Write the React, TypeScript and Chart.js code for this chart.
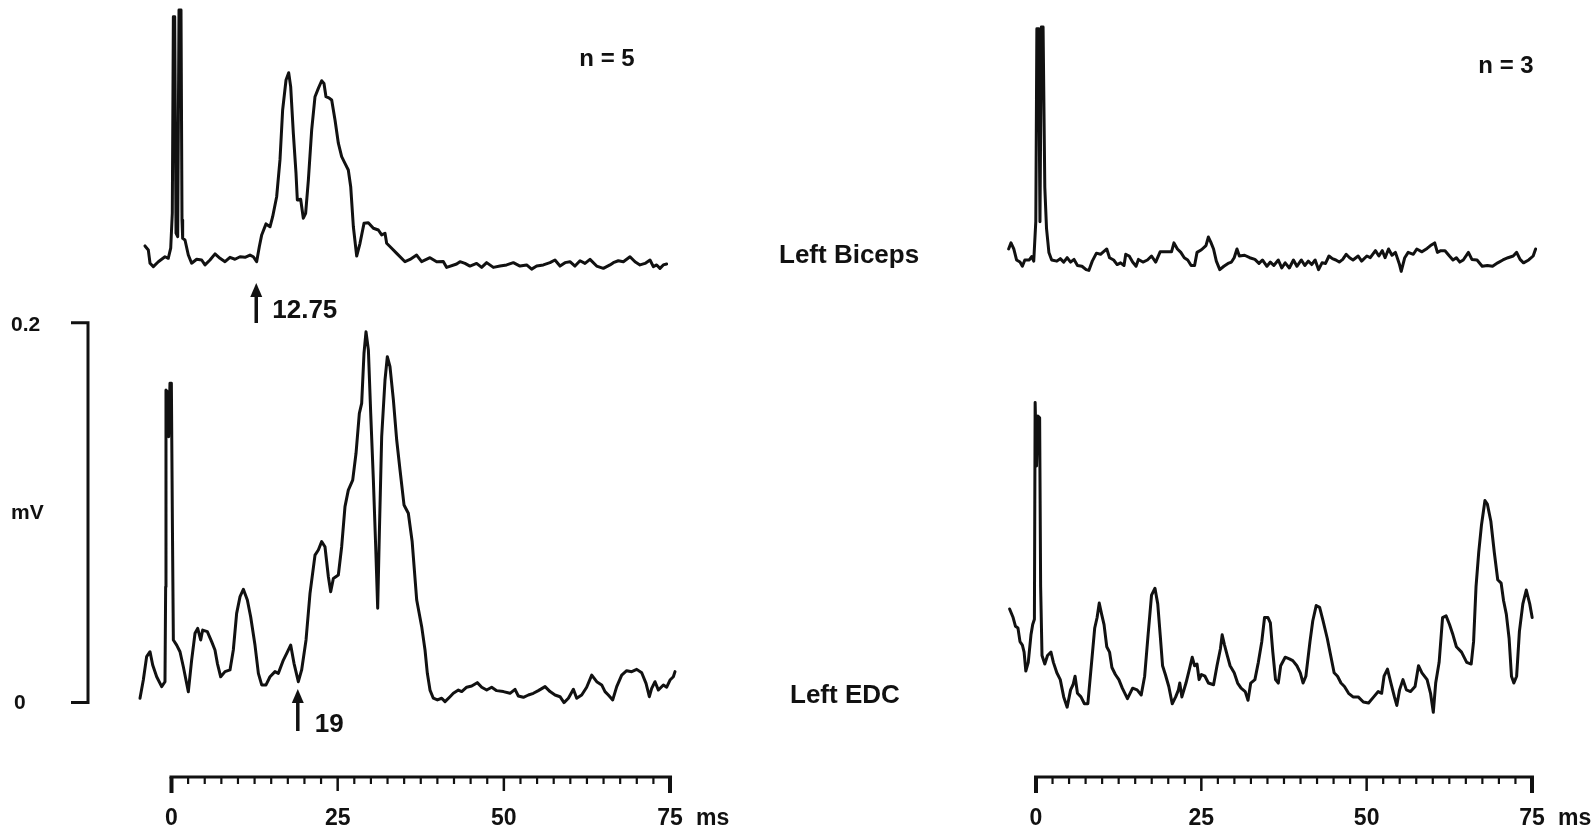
import React, { useEffect, useRef } from "react";
import { Chart, registerables } from "chart.js";

Chart.register(...registerables);

// ---------- data (time in ms, amplitude in mV) ----------
const leftBicepsMs = [
  -3.99, -3.49, -3.23, -2.73, -1.98, -0.98, -0.48, -0.12, 0.12, 0.28, 0.48, 0.68, 0.93, 1.13, 1.43, 1.58, 1.68, 2.03,
  2.53, 3.03, 3.79, 4.54, 5.04, 5.79, 6.55, 7.3, 8.05, 8.8, 9.55, 10.31, 11.06, 11.81, 12.31, 12.81, 13.21, 13.57,
  14.22, 14.82, 15.22, 15.82, 16.32, 16.72, 17.23, 17.63, 17.93, 18.33, 18.73, 18.93, 19.43, 19.83, 20.18, 20.59,
  21.09, 21.59, 22.09, 22.59, 22.94, 23.24, 23.75, 24.1, 24.6, 25.1, 25.6, 26.1, 26.6, 26.96, 27.36, 27.86, 28.36,
  28.96, 29.61, 30.37, 31.12, 31.62, 32.12, 32.37, 33.12, 33.88, 35.13, 35.88, 36.88, 37.63, 38.89, 39.89, 40.89,
  41.4, 42.9, 43.4, 44.15, 44.9, 45.9, 46.66, 47.41, 48.42, 49.42, 50.42, 51.43, 52.43, 53.43, 54.18, 54.94, 55.94,
  56.94, 57.69, 58.45, 59.2, 59.95, 60.7, 61.46, 62.21, 62.96, 63.96, 64.97, 65.97, 66.47, 67.22, 67.98, 68.98,
  69.73, 70.48, 71.24, 71.99, 72.49, 72.99, 73.49, 73.99, 74.49,
];
const leftBicepsMv = [
  0.0122, 0.0101, 0.0031, 0.0013, 0.0039, 0.0065, 0.0057, 0.011, 0.0294, 0.1329, 0.1329, 0.0189, 0.0171, 0.1365,
  0.1365, 0.0259, 0.0162, 0.0153, 0.0074, 0.0031, 0.0052, 0.0048, 0.0022, 0.0048, 0.008, 0.0057, 0.0039, 0.0062,
  0.0052, 0.0065, 0.0062, 0.0074, 0.0065, 0.0039, 0.0118, 0.018, 0.0238, 0.0223, 0.0276, 0.0381, 0.0575, 0.0838,
  0.0996, 0.1034, 0.0961, 0.0715, 0.0505, 0.0364, 0.0368, 0.0268, 0.0294, 0.0469, 0.0733, 0.0908, 0.0952, 0.0992,
  0.0978, 0.0908, 0.09, 0.0891, 0.0785, 0.0663, 0.0592, 0.0557, 0.0522, 0.0434, 0.0223, 0.0069, 0.0136, 0.0241,
  0.0244, 0.0215, 0.0206, 0.018, 0.0189, 0.0136, 0.011, 0.0083, 0.0039, 0.0051, 0.0074, 0.0039, 0.006, 0.0039,
  0.004, 0.0009, 0.0027, 0.0039, 0.003, 0.0016, 0.003, 0.0009, 0.0034, 0.0009, 0.0016, 0.0022, 0.0034, 0.0016,
  0.0022, 0.0, 0.0016, 0.0022, 0.0034, 0.0048, 0.0016, 0.0034, 0.0039, 0.0016, 0.0044, 0.003, 0.0051, 0.0016,
  0.0004, 0.0022, 0.0034, 0.0044, 0.0039, 0.0065, 0.0039, 0.0022, 0.003, 0.0048, 0.0013, 0.0022, 0.0004, 0.0022,
  0.0027,
];

const leftEdcMs = [
  -4.74, -4.24, -3.74, -3.23, -2.83, -2.23, -1.48, -0.98, -0.88, -0.83, -0.63, -0.43, -0.23, -0.02, 0.13, 0.28, 0.78,
  1.28, 1.78, 2.53, 3.03, 3.54, 3.94, 4.39, 4.69, 5.39, 6.04, 6.54, 6.9, 7.4, 8.05, 8.8, 9.3, 9.8, 10.31, 10.81,
  11.41, 11.91, 12.56, 13.07, 13.57, 14.22, 14.82, 15.57, 16.07, 16.83, 17.33, 17.93, 18.43, 19.08, 19.58, 20.24,
  20.84, 21.59, 22.09, 22.59, 23.09, 23.6, 23.95, 24.35, 25.1, 25.6, 26.1, 26.6, 27.26, 27.76, 28.26, 28.61, 28.96,
  29.26, 29.62, 29.97, 30.37, 30.72, 31.02, 31.27, 31.62, 32.12, 32.47, 32.87, 33.38, 33.88, 34.38, 34.98, 35.63,
  36.2, 36.89, 37.64, 38.14, 38.49, 38.89, 39.39, 40.0, 40.65, 41.15, 41.9, 42.4, 43.16, 43.66, 44.41, 45.16, 46.0,
  46.67, 47.42, 48.17, 48.92, 49.93, 50.93, 51.68, 52.18, 52.94, 53.69, 54.44, 55.19, 56.2, 56.95, 57.7, 58.45,
  59.05, 59.71, 60.46, 60.96, 61.71, 62.46, 63.22, 63.97, 64.72, 65.22, 65.72, 66.38, 66.98, 67.73, 68.48, 69.24,
  69.99, 70.74, 71.39, 71.89, 72.24, 72.74, 73.25, 74.0, 74.5, 75.0, 75.5, 75.75,
];
const leftEdcMv = [
  0.0023, 0.0119, 0.0242, 0.0268, 0.0198, 0.0136, 0.0084, 0.011, 0.061, 0.1646, 0.1637, 0.14, 0.1682, 0.1682, 0.0962,
  0.033, 0.0303, 0.0268, 0.0189, 0.0057, 0.0224, 0.0365, 0.0391, 0.033, 0.0382, 0.0374, 0.0321, 0.0277, 0.0207,
  0.0136, 0.0163, 0.0172, 0.0277, 0.047, 0.0558, 0.0597, 0.054, 0.0452, 0.0303, 0.0154, 0.0093, 0.0093, 0.0136,
  0.0163, 0.0154, 0.0224, 0.0259, 0.0303, 0.0207, 0.011, 0.0172, 0.033, 0.0576, 0.0777, 0.0804, 0.0848, 0.0821,
  0.0663, 0.0584, 0.0654, 0.0672, 0.0821, 0.1032, 0.1119, 0.1172, 0.1313, 0.1523, 0.1576, 0.184, 0.1953, 0.1857,
  0.1523, 0.1172, 0.0821, 0.0497, 0.0892, 0.14, 0.1699, 0.1822, 0.1769, 0.1594, 0.1383, 0.1225, 0.1041, 0.0997,
  0.085, 0.054, 0.04, 0.0277, 0.0154, 0.0066, 0.0023, 0.0014, 0.0023, 0.0005, 0.0031, 0.0049, 0.0066, 0.0058,
  0.0081, 0.0087, 0.0105, 0.0081, 0.0066, 0.0081, 0.0063, 0.0058, 0.0049, 0.007, 0.0035, 0.0028, 0.004, 0.0049,
  0.0063, 0.0084, 0.0058, 0.004, 0.0031, 0.0, 0.0023, 0.007, 0.0023, 0.004, 0.0081, 0.0145, 0.011, 0.0093, 0.0058,
  0.004, 0.0014, 0.0084, 0.0145, 0.0168, 0.0163, 0.0175, 0.0157, 0.0101, 0.0031, 0.0075, 0.011, 0.0066, 0.0093,
  0.0081, 0.0119, 0.0136, 0.0163,
];

const rightBicepsMs = [
  -4.14, -3.78, -3.36, -2.94, -2.42, -2.06, -1.69, -1.02, -0.65, -0.34, -0.03, 0.13, 0.39, 0.6, 0.81, 1.07, 1.33,
  1.59, 1.95, 2.37, 3.15, 3.67, 4.19, 4.71, 5.23, 5.75, 6.27, 6.95, 7.58, 7.99, 8.51, 9.14, 9.76, 10.18, 10.7, 11.12,
  11.74, 12.27, 12.79, 13.31, 13.57, 14.09, 14.61, 15.13, 15.49, 16.17, 16.85, 17.47, 18.1, 18.77, 19.56, 20.49,
  20.86, 21.38, 21.9, 22.42, 22.94, 23.46, 23.98, 24.35, 25.02, 25.7, 26.07, 26.43, 26.85, 27.27, 27.79, 28.41,
  29.04, 29.56, 29.97, 30.39, 30.75, 31.54, 32.32, 33.1, 33.72, 34.24, 34.92, 35.44, 35.96, 36.64, 37.16, 37.68,
  38.31, 38.93, 39.45, 40.13, 40.65, 41.17, 41.69, 42.21, 42.73, 43.25, 43.78, 44.3, 44.82, 45.34, 45.86, 46.38,
  46.9, 47.42, 47.94, 48.72, 49.24, 50.03, 50.55, 51.33, 51.85, 52.37, 52.79, 53.31, 53.83, 54.35, 54.97, 55.23,
  55.76, 56.28, 57.06, 57.58, 58.36, 59.14, 59.66, 60.29, 60.7, 61.22, 61.85, 62.52, 63.05, 63.57, 64.09, 64.61,
  65.39, 65.91, 66.69, 67.47, 68.25, 69.04, 69.82, 70.6, 71.38, 72.16, 72.68, 73.2, 73.72, 74.5, 75.18, 75.55,
];
const rightBicepsMv = [
  0.0106, 0.0138, 0.0106, 0.0048, 0.0037, 0.0015, 0.0048, 0.0048, 0.0066, 0.0042, 0.0251, 0.1266, 0.1266, 0.025,
  0.1275, 0.1275, 0.0432, 0.0214, 0.0088, 0.0048, 0.0042, 0.0055, 0.0037, 0.006, 0.0037, 0.0051, 0.0019, 0.0015,
  -0.0003, -0.0007, 0.0042, 0.0084, 0.0078, 0.0091, 0.0106, 0.006, 0.0048, 0.0024, 0.0033, 0.0019, 0.0078, 0.0069,
  0.0037, 0.0015, 0.0051, 0.0037, 0.0048, 0.0069, 0.0037, 0.0091, 0.0091, 0.0091, 0.0138, 0.0106, 0.0088, 0.006,
  0.0048, 0.0019, 0.0019, 0.0088, 0.0102, 0.0124, 0.0169, 0.0142, 0.0106, 0.0042, -0.0003, 0.0015, 0.003, 0.0037,
  0.006, 0.0106, 0.0069, 0.0073, 0.006, 0.0051, 0.003, 0.0048, 0.0015, 0.0037, 0.0019, 0.0048, 0.0006, 0.0033,
  0.0006, 0.0048, 0.0015, 0.0048, 0.0019, 0.0042, 0.0024, 0.0048, -0.0003, 0.0033, 0.003, 0.0069, 0.0055, 0.0048,
  0.0037, 0.0051, 0.0078, 0.006, 0.0048, 0.0069, 0.0042, 0.0069, 0.006, 0.0097, 0.0069, 0.0097, 0.006, 0.0106,
  0.0073, 0.0088, 0.0024, -0.0012, 0.006, 0.0088, 0.0078, 0.0106, 0.0091, 0.0109, 0.0124, 0.0138, 0.0088, 0.0097,
  0.0097, 0.0069, 0.0048, 0.006, 0.0037, 0.0048, 0.0088, 0.0051, 0.0048, 0.0015, 0.0019, 0.0015, 0.0033, 0.0048,
  0.006, 0.0069, 0.0088, 0.0051, 0.0033, 0.0048, 0.0069, 0.0106,
];

const rightEdcMs = [
  -3.99, -3.46, -3.1, -2.73, -2.42, -2.06, -1.8, -1.54, -1.17, -0.76, -0.5, -0.24, -0.13, 0.08, 0.29, 0.55, 0.7,
  0.91, 1.33, 1.74, 2.26, 2.63, 3.15, 3.67, 4.19, 4.71, 5.23, 5.6, 5.91, 6.27, 6.8, 7.32, 7.84, 8.36, 8.88, 9.24,
  9.56, 9.92, 10.29, 10.7, 11.12, 11.48, 12.0, 12.53, 13.05, 13.83, 14.61, 15.29, 15.91, 16.43, 16.95, 17.47, 17.99,
  18.41, 18.78, 19.14, 19.56, 20.08, 20.6, 21.12, 21.54, 21.74, 22.06, 22.68, 23.2, 23.62, 23.98, 24.35, 24.66,
  25.02, 25.55, 26.07, 26.85, 27.37, 27.89, 28.15, 28.51, 28.93, 29.35, 29.97, 30.49, 31.01, 31.64, 32.06, 32.47,
  33.1, 33.62, 34.14, 34.56, 35.08, 35.44, 35.81, 36.22, 36.64, 37.0, 37.68, 38.31, 38.83, 39.45, 39.97, 40.39,
  40.81, 41.43, 41.85, 42.37, 42.89, 43.41, 44.04, 44.56, 45.08, 45.6, 46.12, 46.64, 47.27, 47.94, 48.72, 49.5,
  50.29, 51.07, 51.75, 52.27, 52.63, 53.15, 53.67, 54.2, 54.56, 54.98, 55.49, 56.01, 56.64, 57.32, 57.84, 58.36,
  59.14, 59.66, 60.08, 60.44, 60.96, 61.48, 62.01, 62.53, 63.05, 63.57, 64.35, 65.13, 65.81, 66.17, 66.54, 66.95,
  67.37, 67.89, 68.25, 68.78, 69.3, 69.82, 70.34, 70.7, 71.12, 71.54, 71.9, 72.26, 72.68, 73.1, 73.62, 74.14, 74.66,
  75.03,
];
const rightEdcMv = [
  0.0493, 0.0448, 0.0402, 0.0393, 0.0321, 0.0303, 0.0266, 0.0166, 0.0212, 0.0357, 0.0411, 0.0439, 0.1581, 0.1246,
  0.1509, 0.15, 0.0611, 0.0248, 0.0203, 0.0248, 0.0266, 0.0212, 0.0157, 0.0121, 0.003, -0.0024, 0.0067, 0.0094,
  0.0139, 0.0049, 0.003, -0.0006, -0.0006, 0.0194, 0.0393, 0.0448, 0.0524, 0.0466, 0.0411, 0.0294, 0.0266, 0.0185,
  0.0148, 0.0121, 0.0076, 0.0021, 0.0076, 0.0067, 0.004, 0.0139, 0.0357, 0.0566, 0.0602, 0.052, 0.0357, 0.0194,
  0.0148, 0.0085, -0.0006, 0.003, 0.0067, 0.0103, 0.003, 0.0103, 0.0176, 0.0239, 0.0194, 0.0203, 0.0121, 0.0148,
  0.0139, 0.0103, 0.0094, 0.0194, 0.0284, 0.0357, 0.0303, 0.0248, 0.0194, 0.0157, 0.0103, 0.0076, 0.0058, 0.0012,
  0.0103, 0.0121, 0.0212, 0.0321, 0.0448, 0.0448, 0.042, 0.0266, 0.0121, 0.0103, 0.0194, 0.0239, 0.023, 0.0221,
  0.0194, 0.0157, 0.0103, 0.0139, 0.0321, 0.043, 0.0511, 0.0502, 0.043, 0.0339, 0.0248, 0.0157, 0.0139, 0.0103,
  0.0085, 0.0049, 0.003, 0.003, 0.0003, -0.0002, 0.003, 0.0058, 0.0049, 0.0139, 0.0176, 0.0103, 0.003, -0.0015,
  0.0067, 0.0121, 0.0067, 0.0058, 0.0085, 0.0194, 0.0157, 0.0121, 0.0049, -0.0051, 0.0103, 0.0212, 0.0448, 0.0457,
  0.0411, 0.0357, 0.0294, 0.0266, 0.0212, 0.0203, 0.0321, 0.0611, 0.0792, 0.0937, 0.1064, 0.1046, 0.0955, 0.0792,
  0.0647, 0.0629, 0.0538, 0.0466, 0.0339, 0.0139, 0.0103, 0.0139, 0.0375, 0.052, 0.0593, 0.052, 0.0448,
];

const timeTicks = [0, 25, 50, 75];
const timeUnit = "ms";
const minorStep = 2.5;
const scaleBarMv = [0, 0.2];
const scaleBarLabels = ["0", "0.2"];
const scaleUnit = "mV";
const muscleLabels = ["Left Biceps", "Left EDC"];
const trialCounts = ["n = 5", "n = 3"];
const onsetLatencies = [12.75, 19];

// ---------- layout ----------
const W = 1592;
const H = 830;
const PX_PER_MV = 1898.7;
const L_ZERO = 171.5, L_PPMS = 6.647;
const R_ZERO = 1036, R_PPMS = 6.613;
const TOP_ZERO = 269.1;
const BOT_ZERO = 702.6;
const AXIS_Y = 777;
const LABEL_Y = 819;
const INK = "#111";
const FONT = '"Liberation Sans", Arial, Helvetica, sans-serif';

const pts = (xs: number[], ys: number[]) => xs.map((x, i) => ({ x, y: ys[i] }));

function txt(ctx: CanvasRenderingContext2D, s: string, x: number, y: number, size: number, align: CanvasTextAlign = "left", bold = true) {
  ctx.font = `${bold ? "bold " : ""}${size}px ${FONT}`;
  ctx.textAlign = align;
  ctx.textBaseline = "middle";
  ctx.fillStyle = INK;
  ctx.fillText(s, x, y);
}

function arrow(ctx: CanvasRenderingContext2D, x: number, tip: number, end: number) {
  ctx.strokeStyle = INK;
  ctx.fillStyle = INK;
  ctx.lineWidth = 3.5;
  ctx.beginPath();
  ctx.moveTo(x, end);
  ctx.lineTo(x, tip + 8);
  ctx.stroke();
  ctx.beginPath();
  ctx.moveTo(x, tip);
  ctx.lineTo(x - 6, tip + 14);
  ctx.lineTo(x + 6, tip + 14);
  ctx.closePath();
  ctx.fill();
}

const overlay = {
  id: "overlay",
  afterDraw(chart: any) {
    const ctx: CanvasRenderingContext2D = chart.ctx;
    const xL = chart.scales.xL;
    const xR = chart.scales.xR;
    const yB = chart.scales.yBot;
    ctx.save();
    ctx.lineCap = "butt";

    // time scales
    [xL, xR].forEach((sx: any) => {
      const x0 = sx.getPixelForValue(timeTicks[0]);
      const x1 = sx.getPixelForValue(timeTicks[timeTicks.length - 1]);
      ctx.strokeStyle = INK;
      ctx.lineWidth = 3;
      ctx.beginPath();
      ctx.moveTo(x0 - 2, AXIS_Y);
      ctx.lineTo(x1 + 2, AXIS_Y);
      ctx.stroke();
      const last = timeTicks[timeTicks.length - 1];
      for (let t = 0; t <= last + 0.001; t += minorStep) {
        const px = sx.getPixelForValue(t);
        const isEnd = t === 0 || Math.abs(t - last) < 0.001;
        const isMajor = timeTicks.some((v) => Math.abs(v - t) < 0.001);
        ctx.lineWidth = isEnd ? 4 : isMajor ? 2.5 : 2.2;
        ctx.beginPath();
        ctx.moveTo(px, AXIS_Y);
        ctx.lineTo(px, AXIS_Y + (isEnd ? 16 : isMajor ? 14 : 7));
        ctx.stroke();
      }
      timeTicks.forEach((t) => txt(ctx, String(t), sx.getPixelForValue(t), LABEL_Y, 23, "center"));
      txt(ctx, timeUnit, x1 + 26, LABEL_Y, 23, "left");
    });

    // amplitude scale bar
    const yT = yB.getPixelForValue(scaleBarMv[1]);
    const y0 = yB.getPixelForValue(scaleBarMv[0]);
    ctx.lineWidth = 3;
    ctx.strokeStyle = INK;
    ctx.beginPath();
    ctx.moveTo(71, yT);
    ctx.lineTo(88, yT);
    ctx.lineTo(88, y0);
    ctx.lineTo(71, y0);
    ctx.stroke();
    txt(ctx, scaleBarLabels[1], 11, yT + 2, 21, "left");
    txt(ctx, scaleUnit, 11, (yT + y0) / 2, 21, "left");
    txt(ctx, scaleBarLabels[0], 14, y0 + 1, 21, "left");

    // labels
    txt(ctx, trialCounts[0], 607, 59, 24, "center");
    txt(ctx, trialCounts[1], 1506, 66, 24, "center");
    txt(ctx, muscleLabels[0], 779, 256, 26, "left");
    txt(ctx, muscleLabels[1], 790, 696, 26, "left");

    // onset arrows
    const a1 = xL.getPixelForValue(onsetLatencies[0]);
    arrow(ctx, a1, 283, 323);
    txt(ctx, String(onsetLatencies[0]), a1 + 16, 311, 26, "left");
    const a2 = xL.getPixelForValue(onsetLatencies[1]);
    arrow(ctx, a2, 689, 731);
    txt(ctx, String(onsetLatencies[1]), a2 + 17, 725, 26, "left");

    ctx.restore();
  },
};

export default function App() {
  const ref = useRef<HTMLCanvasElement>(null);
  useEffect(() => {
    const ds = (data: any, xAxisID: string, yAxisID: string) => ({
      data,
      xAxisID,
      yAxisID,
      borderColor: INK,
      borderWidth: 3,
      pointRadius: 0,
      tension: 0,
      fill: false,
      clip: false as any,
      borderJoinStyle: "round" as const,
      borderCapStyle: "round" as const,
    });
    const chart = new Chart(ref.current as HTMLCanvasElement, {
      type: "line",
      data: {
        datasets: [
          ds(pts(leftBicepsMs, leftBicepsMv), "xL", "yTop"),
          ds(pts(leftEdcMs, leftEdcMv), "xL", "yBot"),
          ds(pts(rightBicepsMs, rightBicepsMv), "xR", "yTop"),
          ds(pts(rightEdcMs, rightEdcMv), "xR", "yBot"),
        ],
      },
      options: {
        animation: false,
        responsive: false,
        devicePixelRatio: 1,
        parsing: false as any,
        normalized: true,
        layout: { padding: 0 },
        plugins: { legend: { display: false }, tooltip: { enabled: false } },
        events: [],
        scales: {
          xL: { type: "linear", display: false, min: -L_ZERO / L_PPMS, max: (W - L_ZERO) / L_PPMS },
          xR: { type: "linear", display: false, min: -R_ZERO / R_PPMS, max: (W - R_ZERO) / R_PPMS },
          yTop: { type: "linear", display: false, min: -(H - TOP_ZERO) / PX_PER_MV, max: TOP_ZERO / PX_PER_MV },
          yBot: { type: "linear", display: false, min: -(H - BOT_ZERO) / PX_PER_MV, max: BOT_ZERO / PX_PER_MV },
        },
      },
      plugins: [overlay],
    });
    return () => chart.destroy();
  }, []);
  return (
    <div style={{ position: "absolute", left: 0, top: 0, width: W, height: H, background: "#fff" }}>
      <canvas ref={ref} width={W} height={H} style={{ display: "block", width: W, height: H }} />
    </div>
  );
}
